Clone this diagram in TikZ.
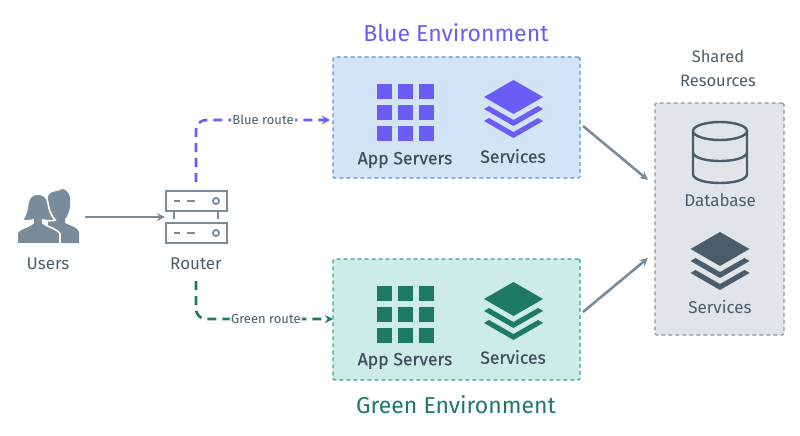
\documentclass[tikz,border=0pt]{standalone}
\usepackage{fontspec}
\setmainfont{Fira Sans}
\definecolor{bluemain}{HTML}{6A5CF5}
\definecolor{bluefill}{HTML}{D2E4F5}
\definecolor{blueedge}{HTML}{4F9BDD}
\definecolor{greenmain}{HTML}{1F7A63}
\definecolor{greenfill}{HTML}{CDECE8}
\definecolor{greenedge}{HTML}{2FA898}
\definecolor{greyfill}{HTML}{E1E4E8}
\definecolor{greyedge}{HTML}{8A98A3}
\definecolor{slate}{HTML}{4B5D6B}
\definecolor{arrowgrey}{HTML}{7A8B99}
\tikzset{
  envbox/.style={draw, dash pattern=on 4pt off 3pt, line width=1.3pt, rounded corners=1.5pt, inner sep=0pt},
  txt/.style={text=slate, font=\fontsize{17}{17}\selectfont, inner sep=0pt},
  boldtxt/.style={txt, text=slate!85!black, font=\fontsize{17.6}{17.6}\selectfont\addfontfeature{FakeBold=0.4}},
  route/.style={line width=2.6pt, rounded corners=10pt, dash pattern=on 9pt off 6pt, ->, >=stealth},
  flow/.style={arrowgrey, line width=2.6pt, ->, >=stealth},
  routelabel/.style={fill=white, text=slate, font=\fontsize{13}{13}\selectfont, inner sep=1.5pt},
  layers/.pic={
    \fill[pic actions] (-29.5,0) -- (0,-17) -- (29.5,0) -- (0,17) -- cycle;
    \fill[pic actions] (-29.5,12) -- (-24.5,9) -- (0,23) -- (24.5,9) -- (29.5,12) -- (0,29) -- cycle;
    \fill[pic actions] (-29.5,24) -- (-24.5,21) -- (0,35) -- (24.5,21) -- (29.5,24) -- (0,41) -- cycle;
  },
  grid/.pic={
    \foreach \i in {0,1,2}
      \foreach \j in {0,1,2}
        \fill[pic actions] (21*\i,21*\j) rectangle ++(15,15);
  }
}
\begin{document}
\begin{tikzpicture}[x=1pt,y=-1pt]
\useasboundingbox (0,0) rectangle (800,436);

% boxes
\node (bluebox) [envbox, draw=blueedge, fill=bluefill, minimum width=247pt, minimum height=121pt] at (456.5,117.5) {};
\node (greenbox) [envbox, draw=greenedge, fill=greenfill, minimum width=247pt, minimum height=121pt] at (456.5,319.5) {};
\node (sharedbox) [envbox, draw=greyedge, fill=greyfill, minimum width=129pt, minimum height=232pt] at (719.5,219) {};

% titles
\node (bluetitle) [text=bluemain, font=\fontsize{23}{23}\selectfont, inner sep=0pt] at (456,33) {Blue Environment};
\node (greentitle) [text=greenmain, font=\fontsize{23}{23}\selectfont, inner sep=0pt] at (456,405) {Green Environment};
\node (sharedtitle) [txt, align=center, font=\fontsize{16.5}{24}\selectfont] at (718,68) {Shared\\Resources};

% users
\fill[arrowgrey] (79,243) -- (79,232) .. controls (78,227) and (70,226) .. (65,223) -- (65,219)
  .. controls (69,215) and (71,205) .. (70,198) .. controls (69,191) and (64,189) .. (62,189)
  .. controls (60,192) and (50,190) .. (48,196) -- (48,243) -- cycle;
\filldraw[arrowgrey, draw=white, line width=1.6pt] (17,243.8) -- (17,233) .. controls (18,229) and (29,227) .. (33,223) -- (33,220)
  .. controls (29,221) and (25,221) .. (22,220) .. controls (27,214) and (27,209) .. (28,203)
  .. controls (29,191) and (47,191) .. (48,203) .. controls (49,209) and (50,214) .. (55,220)
  .. controls (52,221) and (47,221) .. (43,220) -- (43,223) .. controls (47,227) and (58,229) .. (60,234) -- (60,243.8) -- cycle;
\node (users) [txt] at (48,264) {Users};

% router
\draw[arrowgrey, line width=1.8pt] (174,211) -- (174,219) (218,211) -- (218,219);
\draw[arrowgrey, line width=1.8pt] (166,191) rectangle (227,211);
\draw[arrowgrey, line width=1.8pt] (166,223) rectangle (227,243);
\foreach \y in {201,233} {
  \draw[arrowgrey, line width=1.8pt] (174,\y) -- (180,\y) (187,\y) -- (195,\y);
  \draw[arrowgrey, line width=1.8pt] (216,\y) circle [radius=3pt];
}
\node (router) [txt] at (196,264) {Router};

% blue icons
\pic [fill=bluemain] at (377,84) {grid};
\pic [fill=bluemain] at (513.5,97) {layers};
\node (blueapp) [boldtxt] at (405,160) {App Servers};
\node (bluesvc) [boldtxt] at (513,156) {Services};

% green icons
\pic [fill=greenmain] at (377,286) {grid};
\pic [fill=greenmain] at (513.5,299) {layers};
\node (greenapp) [boldtxt] at (405,361) {App Servers};
\node (greensvc) [boldtxt] at (513,357) {Services};

% database
\draw[slate, line width=2.4pt] (693,131) -- (693,174) .. controls (693,186) and (747,186) .. (747,174) -- (747,131);
\draw[slate, line width=2.4pt] (720,131) ellipse [x radius=27pt, y radius=9pt];
\draw[slate, line width=2.4pt] (693,152) .. controls (693,164) and (747,164) .. (747,152);
\node (database) [txt] at (720,200) {Database};
\pic [fill=slate] at (720,249) {layers};
\node (sharedsvc) [txt] at (720,307) {Services};

% connectors
\coordinate (usersout) at (85,217);
\coordinate (routerin) at (165,217);
\coordinate (blueout) at (196,182);
\coordinate (bluecorner) at (196,120);
\coordinate (bluein) at (330,120);
\coordinate (greenout) at (196,281);
\coordinate (greencorner) at (196,319);
\coordinate (greenin) at (333,319);
\coordinate (blueleave) at (583,126);
\coordinate (sharedtop) at (648,180);
\coordinate (greenleave) at (583,312);
\coordinate (sharedlow) at (648,258);
\draw [flow] (usersout) -- (routerin);
\draw [route, bluemain] (blueout) -- (bluecorner) -- node [routelabel, pos=.5] {Blue route} (bluein);
\draw [route, greenmain] (greenout) -- (greencorner) -- node [routelabel, pos=.51] {Green route} (greenin);
\draw [flow] (blueleave) -- (sharedtop);
\draw [flow] (greenleave) -- (sharedlow);
\end{tikzpicture}
\end{document}
